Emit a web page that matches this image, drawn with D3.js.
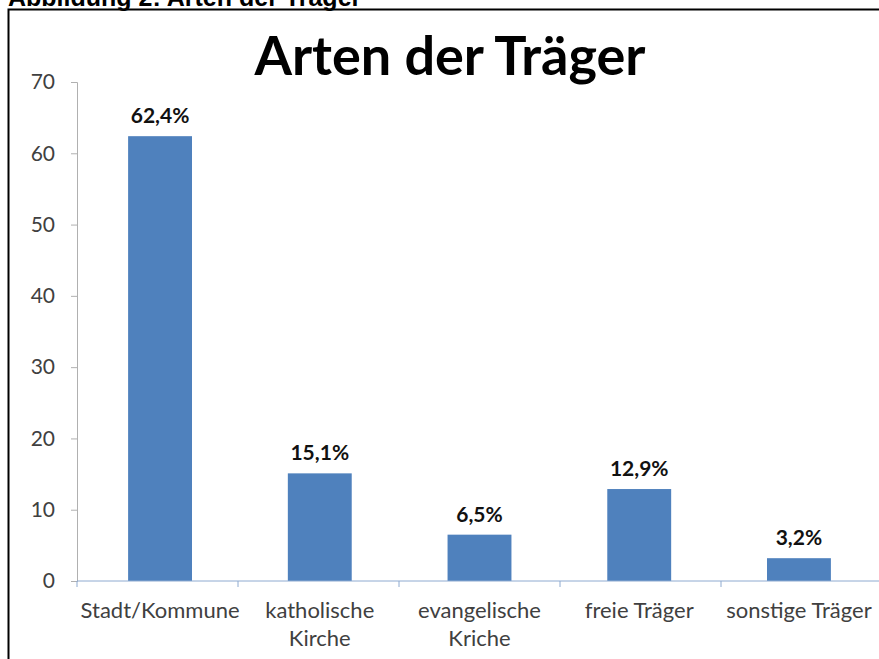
<!DOCTYPE html>
<html>
<head>
<meta charset="utf-8">
<script src="https://cdn.jsdelivr.net/npm/d3@7"></script>
<style>
  body { margin: 0; background: #fff; }
  .axis text { font-family: Lato, "Open Sans", sans-serif; fill: #404040; }
</style>
</head>
<body>
<div id="chart"></div>
<script>
const svgWidth = 879;
const svgHeight = 659;
const margin = {top: 82, right: -3, bottom: 78, left: 77};
const width = svgWidth - margin.left - margin.right;
const height = svgHeight - margin.top - margin.bottom;

const categories = [["Stadt/Kommune"], ["katholische", "Kirche"], ["evangelische", "Kriche"], ["freie Träger"], ["sonstige Träger"]];
const values = [62.4, 15.1, 6.5, 12.9, 3.2];
const valueLabels = ["62,4%", "15,1%", "6,5%", "12,9%", "3,2%"];
const yTicks = [0, 10, 20, 30, 40, 50, 60, 70];

const svg = d3.select("#chart")
              .append("svg")
              .attr("width", svgWidth)
              .attr("height", svgHeight);

// caption above the frame (cut off at the top, as in the source)
svg.append("text")
   .attr("x", 8)
   .attr("y", 6)
   .attr("font-family", "'Liberation Sans', Arial, sans-serif")
   .attr("font-weight", "bold")
   .attr("font-size", 25)
   .text("Abbildung 2: Arten der Träger");

// frame
svg.append("path")
   .attr("d", "M8.5," + svgHeight + "V9.5H" + svgWidth)
   .attr("fill", "none")
   .attr("stroke", "#000")
   .attr("stroke-width", 2);

svg.append("text")
   .attr("x", 450)
   .attr("y", 75)
   .attr("text-anchor", "middle")
   .attr("font-family", "Lato, 'Open Sans', sans-serif")
   .attr("font-weight", "bold")
   .attr("font-size", 54)
   .text("Arten der Träger");

const g = svg.append("g")
             .attr("transform", "translate(" + margin.left + "," + margin.top + ")");

const xscale = d3.scaleBand()
                 .domain(d3.range(categories.length))
                 .range([0, width])
                 .paddingInner(0.6)
                 .paddingOuter(0.32);

const yscale = d3.scaleLinear()
                 .domain([0, 70])
                 .range([height, 0]);

// y axis
const yaxis = g.append("g")
   .attr("class", "axis")
   .call(d3.axisLeft(yscale).tickValues(yTicks).tickSize(6).tickPadding(16));
yaxis.selectAll("line, path").attr("stroke", "#b0b0b0");
yaxis.selectAll("text").attr("font-size", 21);

// bars
g.selectAll(".bar")
 .data(values)
 .enter()
 .append("rect")
 .attr("class", "bar")
 .attr("x", function(d, i) { return xscale(i); })
 .attr("y", function(d) { return yscale(d); })
 .attr("width", xscale.bandwidth())
 .attr("height", function(d) { return height - yscale(d); })
 .attr("fill", "#4f81bd");

// value labels
g.selectAll(".vlabel")
 .data(values)
 .enter()
 .append("text")
 .attr("class", "vlabel")
 .attr("x", function(d, i) { return xscale(i) + xscale.bandwidth() / 2; })
 .attr("y", function(d) { return yscale(d) - 13; })
 .attr("text-anchor", "middle")
 .attr("font-family", "Lato, 'Open Sans', sans-serif")
 .attr("font-weight", "bold")
 .attr("font-size", 21)
 .attr("fill", "#111")
 .text(function(d, i) { return valueLabels[i]; });

// x axis
const step = width / categories.length;
const xaxis = g.append("g")
   .attr("class", "axis")
   .attr("transform", "translate(0," + height + ")");
xaxis.append("line")
   .attr("x1", 0).attr("x2", width)
   .attr("stroke", "#8eaad0");
xaxis.selectAll(".tick")
   .data(d3.range(categories.length + 1))
   .enter()
   .append("line")
   .attr("x1", function(d) { return d * step; })
   .attr("x2", function(d) { return d * step; })
   .attr("y2", 6)
   .attr("stroke", "#8eaad0");

xaxis.selectAll(".clabel")
   .data(categories)
   .enter()
   .append("text")
   .attr("class", "clabel")
   .attr("x", function(d, i) { return xscale(i) + xscale.bandwidth() / 2; })
   .attr("y", 0)
   .attr("text-anchor", "middle")
   .attr("font-size", 22)
   .each(function(d) {
       d3.select(this).selectAll("tspan")
         .data(d)
         .enter()
         .append("tspan")
         .attr("x", d3.select(this).attr("x"))
         .attr("y", function(t, j) { return 37 + j * 28; })
         .text(function(t) { return t; });
   });
</script>
</body>
</html>
